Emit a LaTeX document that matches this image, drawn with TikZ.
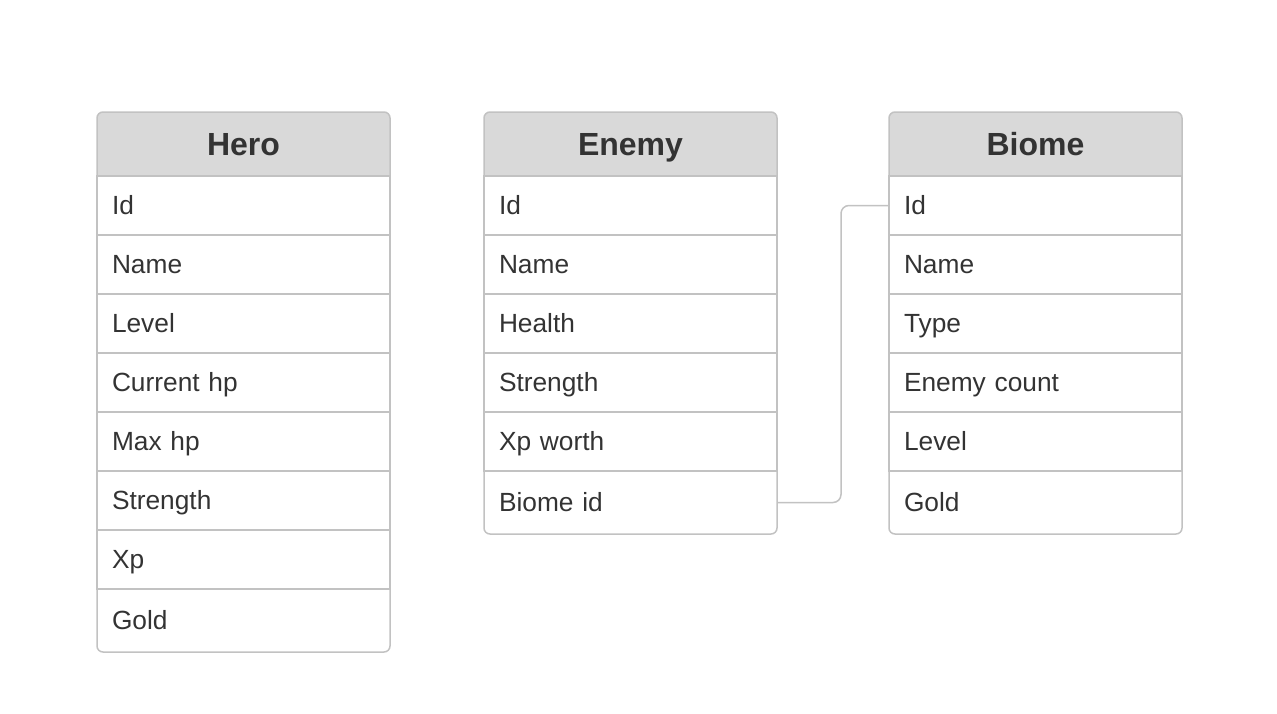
\documentclass[tikz,border=0pt]{standalone}
\usepackage{xcolor}
\usepackage{fontspec}
\setmainfont{Liberation Sans}
\usepackage{tikz}
\usetikzlibrary{positioning, backgrounds}
\definecolor{edgegray}{HTML}{C2C2C2}
\definecolor{headgray}{HTML}{D9D9D9}
\definecolor{inkgray}{HTML}{333333}
\tikzstyle{header} = [rectangle, minimum width=293pt, minimum height=64pt, inner sep=0pt, outer sep=0pt, text height=23pt, text depth=0pt, text centered, text=inkgray, font=\fontsize{32}{38}\selectfont\bfseries]
\tikzstyle{field} = [rectangle, draw=edgegray, line width=1.5pt, outer sep=0pt, text width=263pt, inner xsep=15pt, inner ysep=0pt, minimum height=59pt, text height=18.7pt, text depth=0pt, align=left, text=inkgray, font=\fontsize{26.3}{31}\selectfont]
\tikzstyle{lastfield} = [field, draw=none, minimum height=63pt]
\tikzstyle{tablebox} = [draw=edgegray, line width=1.5pt, rounded corners=6pt]
\tikzstyle{link} = [draw=edgegray, line width=1.5pt, rounded corners=8pt]

\begin{document}
\begin{tikzpicture}[x=1pt, y=1pt]
   \useasboundingbox (0,0) rectangle (1277,-713);

   % Hero
   \node (hero) [header] at (243.5,-144) {Hero};
   \node (heroid) [field, below=0pt of hero] {Id};
   \node (heroname) [field, below=0pt of heroid] {Name};
   \node (herolevel) [field, below=0pt of heroname] {Level};
   \node (herocurhp) [field, below=0pt of herolevel] {Current hp};
   \node (heromaxhp) [field, below=0pt of herocurhp] {Max hp};
   \node (herostr) [field, below=0pt of heromaxhp] {Strength};
   \node (heroxp) [field, below=0pt of herostr] {Xp};
   \node (herogold) [lastfield, below=0pt of heroxp] {Gold};

   % Enemy
   \node (enemy) [header] at (630.5,-144) {Enemy};
   \node (enemyid) [field, below=0pt of enemy] {Id};
   \node (enemyname) [field, below=0pt of enemyid] {Name};
   \node (enemyhealth) [field, below=0pt of enemyname] {Health};
   \node (enemystr) [field, below=0pt of enemyhealth] {Strength};
   \node (enemyxp) [field, below=0pt of enemystr] {Xp worth};
   \node (enemybiome) [lastfield, below=0pt of enemyxp] {Biome id};

   % Biome
   \node (biome) [header] at (1035.5,-144) {Biome};
   \node (biomeid) [field, below=0pt of biome] {Id};
   \node (biomename) [field, below=0pt of biomeid] {Name};
   \node (biometype) [field, below=0pt of biomename] {Type};
   \node (biomecount) [field, below=0pt of biometype] {Enemy count};
   \node (biomelevel) [field, below=0pt of biomecount] {Level};
   \node (biomegold) [lastfield, below=0pt of biomelevel] {Gold};

   % header backgrounds
   \begin{scope}[on background layer]
      \foreach \t in {hero, enemy, biome}
         \fill [headgray] (\t.south west) [rounded corners=6pt] -- (\t.north west) -- (\t.north east) [sharp corners] -- (\t.south east) -- cycle;
   \end{scope}

   \draw [tablebox] (hero.north west) rectangle (herogold.south east);
   \draw [tablebox] (enemy.north west) rectangle (enemybiome.south east);
   \draw [tablebox] (biome.north west) rectangle (biomegold.south east);

   \path [link] (enemybiome.east) -- ++(64,0) |- (biomeid.west);
\end{tikzpicture}
\end{document}
